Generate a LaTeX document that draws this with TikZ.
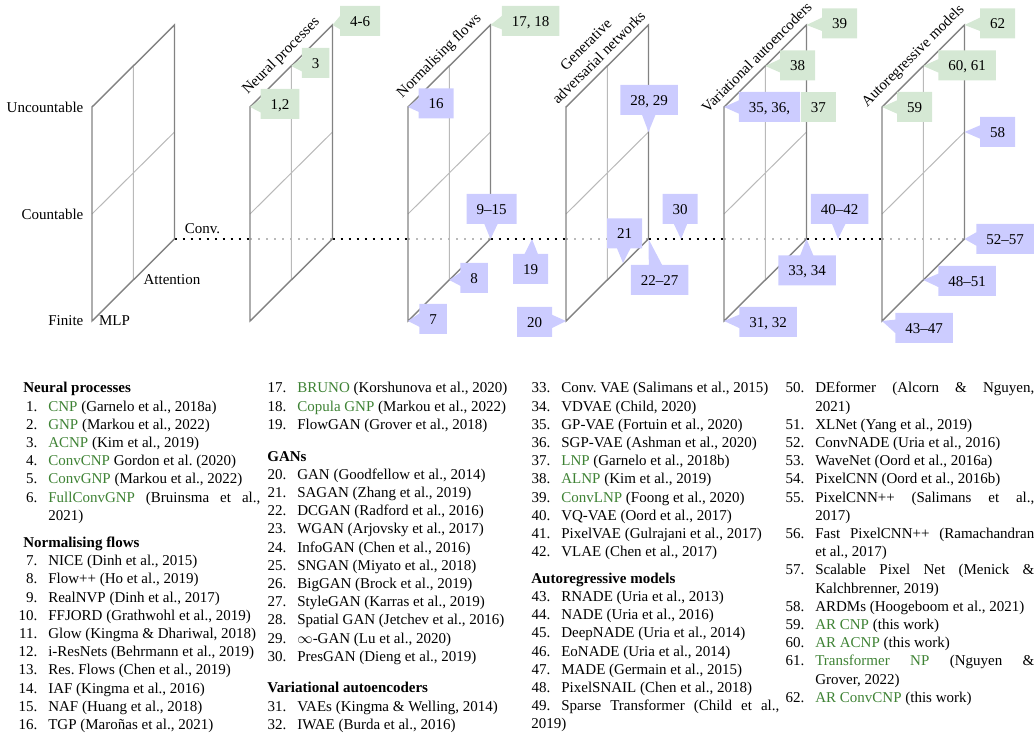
\documentclass[tikz,border=0pt]{standalone}
\usepackage{fontspec}
\setmainfont{Liberation Serif}
\usetikzlibrary{shapes.callouts,positioning}

\definecolor{npgreen}{RGB}{62,130,52}
\definecolor{callgreen}{RGB}{213,232,212}
\definecolor{callblue}{RGB}{204,204,255}
\definecolor{edgegray}{RGB}{130,130,130}
\definecolor{gridgray}{RGB}{185,185,185}

\newlength{\legnumw}
\newlength{\legnumgap}
\newlength{\leghdskip}
\setlength{\legnumgap}{6.6pt}
\hyphenpenalty=10000
\exhyphenpenalty=10000
\tolerance=9999
\newcommand{\npname}[1]{\textcolor{npgreen}{#1}}
\newcommand{\legline}[2]{\hangindent=\dimexpr\legnumw+\legnumgap\relax\hangafter=1\noindent\hbox to \legnumw{\hss#1.}\hskip\legnumgap#2}
\newcommand{\legitem}{\par\legline}
\newcommand{\leghead}[1]{\par\vspace{\leghdskip}\noindent\textbf{#1}}

\tikzset{
	edgeline/.style={draw=edgegray, line width=0.85pt},
	gridline/.style={draw=gridgray, line width=0.6pt},
	dotline/.style={line width=1.2pt, dash pattern=on 1.2pt off 3.6pt},
	paneltitle/.style={rotate=45, anchor=south, inner sep=4pt},
	axlabel/.style={inner sep=1pt},
	callbase/.style={rectangle callout, inner xsep=6pt, inner ysep=0pt, minimum height=18pt, text height=6.3pt, text depth=0pt, callout pointer width=8pt},
	greencall/.style={callbase, fill=callgreen},
	bluecall/.style={callbase, fill=callblue},
	greenbox/.style={rectangle, fill=callgreen, inner xsep=6pt, inner ysep=0pt, minimum height=18pt, text height=6.3pt, text depth=0pt},
	legcol/.style={anchor=base west, inner sep=0pt, align=justify}
}

\begin{document}
\begin{tikzpicture}[x=0.6pt, y=-0.6pt, font=\fontsize{9}{10.92}\selectfont]
	\useasboundingbox (0,0) rectangle (1034,736);
	\foreach \p/\fx in {ax/92, np/250, nf/408, gan/566, vae/724, ar/882} {
		\coordinate (\p-m-fin) at (\fx,321);
		\coordinate (\p-a-fin) at (\fx+41.25,280);
		\coordinate (\p-c-fin) at (\fx+82.5,239);
		\coordinate (\p-m-cnt) at (\fx,214);
		\coordinate (\p-c-cnt) at (\fx+82.5,132);
		\coordinate (\p-m-unc) at (\fx,107);
		\coordinate (\p-a-unc) at (\fx+41.25,66);
		\coordinate (\p-c-unc) at (\fx+82.5,25);
		\coordinate (\p-dot) at (\fx,239);
	}
	\coordinate (nfgan-dot) at (532,239);
	\coordinate (ganvae-dot) at (681,239);
	\coordinate (vaear-dot) at (838,239);
	\coordinate (gan-21) at (623,263);

	\foreach \a/\b in {ax-c-fin/np-dot, np-c-fin/nf-dot, nf-c-fin/gan-dot, gan-c-fin/vae-dot, vae-c-fin/ar-dot}
		\draw[dotline] (\a) -- (\b);
	\foreach \p in {np, nf, gan, vae, ar}
		\draw[dotline, gridgray] (\p-dot) -- (\p-c-fin);

	\foreach \p in {ax, np, nf, gan, vae, ar} {
		\draw[gridline] (\p-a-fin) -- (\p-a-unc) (\p-m-cnt) -- (\p-c-cnt);
		\draw[edgeline] (\p-m-fin) -- (\p-m-unc) -- (\p-c-unc) -- (\p-c-fin) -- cycle;
	}

	\node[axlabel, left=4pt of ax-m-unc] (lb-unc) {Uncountable};
	\node[axlabel, left=4pt of ax-m-cnt] (lb-cnt) {Countable};
	\node[axlabel, left=4pt of ax-m-fin] (lb-fin) {Finite};
	\node[axlabel, right=3pt of ax-m-fin] (lb-mlp) {MLP};
	\node[axlabel, right=5pt of ax-a-fin] (lb-att) {Attention};
	\node[axlabel, anchor=south west] (lb-conv) at ([xshift=5pt, yshift=2pt]ax-c-fin) {Conv.};

	\node[paneltitle] (np-title) at (np-a-unc) {Neural processes};
	\node[paneltitle] (nf-title) at (nf-a-unc) {Normalising flows};
	\node[paneltitle, align=center] (gan-title) at (gan-a-unc) {Generative\\adversarial networks};
	\node[paneltitle] (vae-title) at (vae-a-unc) {Variational autoencoders};
	\node[paneltitle] (ar-title) at (ar-a-unc) {Autoregressive models};

	\foreach \nm/\px/\py/\tip/\txt in {c12/280/104/np-m-unc/{1,2}, c3/315.5/63/np-a-unc/3, c46/360/21/np-c-unc/4-6, c1718/530.5/21/nf-c-unc/{17, 18}, c39/839.5/23.5/vae-c-unc/39, c38/797.5/65.5/vae-a-unc/38, c62/997.5/23.5/ar-c-unc/62, c6061/967/65.5/ar-a-unc/{60, 61}, c59/914.5/107/ar-m-unc/59}
		\node[greencall, callout absolute pointer={(\tip)}] (\nm) at (\px,\py) {\txt};
	\foreach \nm/\px/\py/\tip/\txt in {c16/436/103.5/nf-m-unc/16, c915/491.5/209/nf-c-fin/9–15, c8/474/278/nf-a-fin/8, c7/433/319/nf-m-fin/7, c19/530.5/269/nfgan-dot/19, c2829/649/100/gan-c-cnt/{28, 29}, c21/624.5/233.5/gan-21/21, c2227/659.5/280/gan-c-fin/22–27, c20/534.5/322/gan-m-fin/20, c30/680/209/ganvae-dot/30, c3536/769.5/107/vae-m-unc/{35, 36,}, c4042/839.5/209/vaear-dot/40–42, c3334/807/270.5/vae-c-fin/{33, 34}, c3132/768/322/vae-m-fin/{31, 32}, c58/997.5/132/ar-c-cnt/58, c5257/1005/239/ar-c-fin/52–57, c4851/967/281/ar-a-fin/48–51, c4347/924/328/ar-m-fin/43–47}
		\node[bluecall, callout absolute pointer={(\tip)}] (\nm) at (\px,\py) {\txt};
	\node[greenbox, anchor=west] (c37) at (c3536.east) {37};

	\node[legcol, text width=142.2pt] (leg-a) at (23,393) {\setlength{\legnumw}{8.4pt}\setlength{\leghdskip}{5.4pt}%
		\noindent\textbf{Neural processes}
		\legitem{1}{\npname{CNP} (Garnelo et al., 2018a)}
		\legitem{2}{\npname{GNP} (Markou et al., 2022)}
		\legitem{3}{\npname{ACNP} (Kim et al., 2019)}
		\legitem{4}{\npname{ConvCNP} Gordon et al.\ (2020)}
		\legitem{5}{\npname{ConvGNP} (Markou et al., 2022)}
		\legitem{6}{\npname{FullConvGNP} (Bruinsma et al., \linebreak 2021)}
		\leghead{Normalising flows}
		\legitem{7}{NICE (Dinh et al., 2015)}
		\legitem{8}{Flow++ (Ho et al., 2019)}
		\legitem{9}{RealNVP (Dinh et al., 2017)}
		\legitem{10}{FFJORD (Grathwohl et al., 2019)}
		\legitem{11}{Glow (Kingma \& Dhariwal, 2018)}
		\legitem{12}{i-ResNets (Behrmann et al., 2019)}
		\legitem{13}{Res.\ Flows (Chen et al., 2019)}
		\legitem{14}{IAF (Kingma et al., 2016)}
		\legitem{15}{NAF (Huang et al., 2018)}
		\legitem{16}{TGP (Maroñas et al., 2021)}};
	\node[legcol, text width=151.8pt] (leg-b) at (267,393) {\setlength{\legnumw}{11.4pt}\setlength{\leghdskip}{8.1pt}%
		\legline{17}{\npname{BRUNO} (Korshunova et al., 2020)}
		\legitem{18}{\npname{Copula GNP} (Markou et al., 2022)}
		\legitem{19}{FlowGAN (Grover et al., 2018)}
		\leghead{GANs}
		\legitem{20}{GAN (Goodfellow et al., 2014)}
		\legitem{21}{SAGAN (Zhang et al., 2019)}
		\legitem{22}{DCGAN (Radford et al., 2016)}
		\legitem{23}{WGAN (Arjovsky et al., 2017)}
		\legitem{24}{InfoGAN (Chen et al., 2016)}
		\legitem{25}{SNGAN (Miyato et al., 2018)}
		\legitem{26}{BigGAN (Brock et al., 2019)}
		\legitem{27}{StyleGAN (Karras et al., 2019)}
		\legitem{28}{Spatial GAN (Jetchev et al., 2016)}
		\legitem{29}{$\infty$-GAN (Lu et al., 2020)}
		\legitem{30}{PresGAN (Dieng et al., 2019)}
		\leghead{Variational autoencoders}
		\legitem{31}{VAEs (Kingma \& Welling, 2014)}
		\legitem{32}{IWAE (Burda et al., 2016)}};
	\node[legcol, text width=148.8pt] (leg-c) at (531,393) {\setlength{\legnumw}{11.4pt}\setlength{\leghdskip}{5.0pt}%
		\legline{33}{Conv.\ VAE (Salimans et al., 2015)}
		\legitem{34}{VDVAE (Child, 2020)}
		\legitem{35}{GP-VAE (Fortuin et al., 2020)}
		\legitem{36}{SGP-VAE (Ashman et al., 2020)}
		\legitem{37}{\npname{LNP} (Garnelo et al., 2018b)}
		\legitem{38}{\npname{ALNP} (Kim et al., 2019)}
		\legitem{39}{\npname{ConvLNP} (Foong et al., 2020)}
		\legitem{40}{VQ-VAE (Oord et al., 2017)}
		\legitem{41}{PixelVAE (Gulrajani et al., 2017)}
		\legitem{42}{VLAE (Chen et al., 2017)}
		\leghead{Autoregressive models}
		\legitem{43}{RNADE (Uria et al., 2013)}
		\legitem{44}{NADE (Uria et al., 2016)}
		\legitem{45}{DeepNADE (Uria et al., 2014)}
		\legitem{46}{EoNADE (Uria et al., 2014)}
		\legitem{47}{MADE (Germain et al., 2015)}
		\legitem{48}{PixelSNAIL (Chen et al., 2018)}
		\legitem{49}{Sparse Transformer (Child et al., \linebreak 2019)}};
	\node[legcol, text width=149.4pt] (leg-d) at (785,393) {\setlength{\legnumw}{11.4pt}%
		\legline{50}{DEformer (Alcorn \& Nguyen, \linebreak 2021)}
		\legitem{51}{XLNet (Yang et al., 2019)}
		\legitem{52}{ConvNADE (Uria et al., 2016)}
		\legitem{53}{WaveNet (Oord et al., 2016a)}
		\legitem{54}{PixelCNN (Oord et al., 2016b)}
		\legitem{55}{PixelCNN++ (Salimans et al., \linebreak 2017)}
		\legitem{56}{Fast PixelCNN++ (Ramachandran \linebreak et al., 2017)}
		\legitem{57}{Scalable Pixel Net (Menick \& \linebreak Kalchbrenner, 2019)}
		\legitem{58}{ARDMs (Hoogeboom et al., 2021)}
		\legitem{59}{\npname{AR CNP} (this work)}
		\legitem{60}{\npname{AR ACNP} (this work)}
		\legitem{61}{\npname{Transformer NP} (Nguyen \& \linebreak Grover, 2022)}
		\legitem{62}{\npname{AR ConvCNP} (this work)}};
\end{tikzpicture}
\end{document}
